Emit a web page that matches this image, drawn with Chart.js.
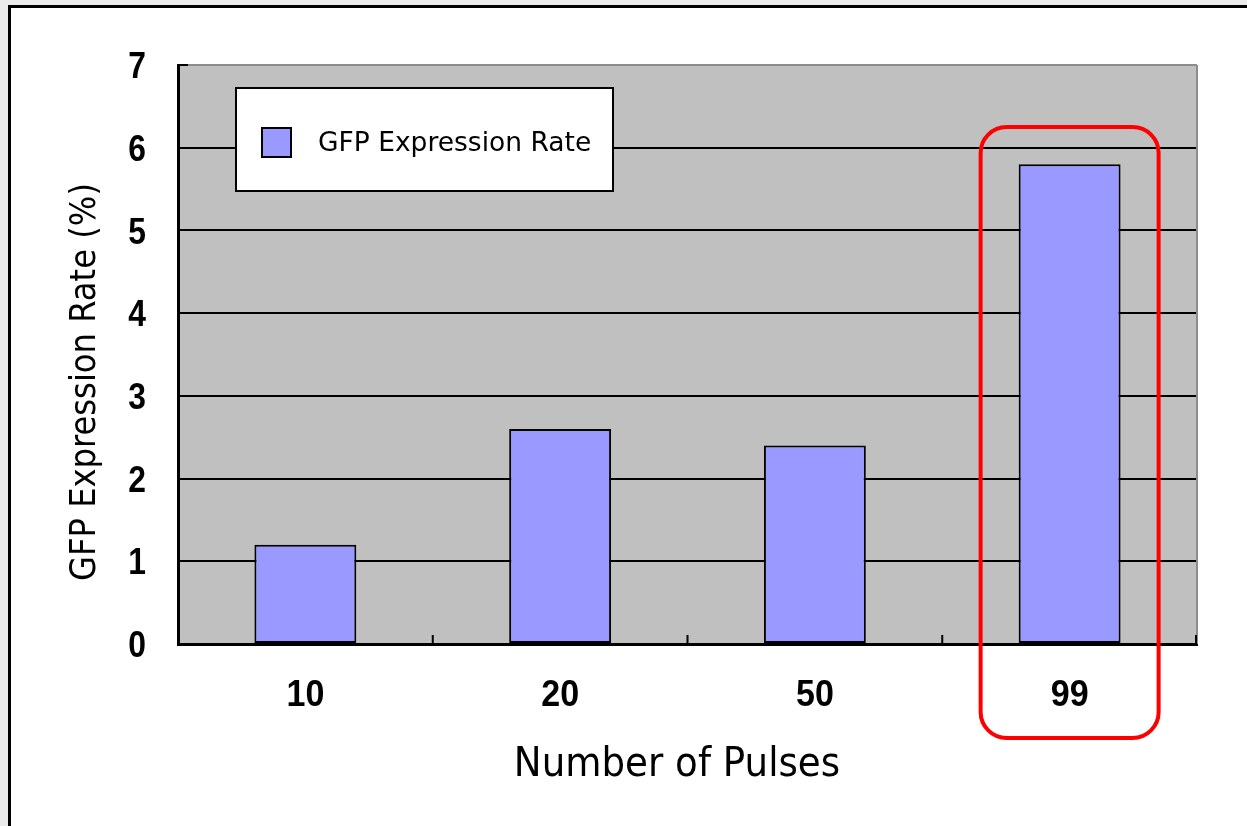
<!DOCTYPE html>
<html>
<head>
<meta charset="utf-8">
<script src="https://cdn.jsdelivr.net/npm/chart.js@4/dist/chart.umd.min.js"></script>
<style>
  html, body { margin: 0; padding: 0; background: #ebebeb; }
  #wrap { position: absolute; left: 0; top: 0; width: 1247px; height: 826px; }
</style>
</head>
<body>
<div id="wrap"><canvas id="myChart" width="1247" height="826"></canvas></div>
<script>
// data
const pulses = ["10", "20", "50", "99"];
const gfpRate = [1.2, 2.6, 2.4, 5.8];
const yTicks = [0, 1, 2, 3, 4, 5, 6, 7];
const seriesName = "GFP Expression Rate";
const xTitle = "Number of Pulses";
const yTitle = "GFP Expression Rate (%)";
const highlighted = "99";

const barFill = "#9999ff";
const tickFont = "bold 37px 'Liberation Sans'";

// text squeezed sideways, the original uses a narrow font
function squeezed(c, text, x, y, font, sx, align) {
  c.save();
  c.font = font;
  c.textAlign = align;
  c.textBaseline = "middle";
  c.translate(x, y);
  c.scale(sx, 1);
  c.fillText(text, 0, 0);
  c.restore();
}

// frame, plot background, inward ticks, labels, legend, titles and the red box
const decor = {
  id: "decor",
  beforeDraw(chart) {
    const c = chart.ctx;
    const a = chart.chartArea;
    c.save();
    c.fillStyle = "#ebebeb";
    c.fillRect(0, 0, chart.width, chart.height);
    c.fillStyle = "#fff";
    c.fillRect(8, 5, chart.width, chart.height);
    c.strokeStyle = "#000";
    c.lineWidth = 3;
    c.beginPath();
    c.moveTo(9.5, chart.height);
    c.lineTo(9.5, 6.5);
    c.lineTo(chart.width, 6.5);
    c.stroke();
    c.fillStyle = "#c0c0c0";
    c.fillRect(a.left, a.top, a.right - a.left, a.bottom - a.top);
    c.restore();
  },
  afterDraw(chart) {
    const c = chart.ctx;
    const a = chart.chartArea;
    const xs = chart.scales.x;
    const ys = chart.scales.y;
    c.save();

    // right border of plot
    c.strokeStyle = "#8c8c8c";
    c.lineWidth = 2;
    c.beginPath();
    c.moveTo(a.right, a.top);
    c.lineTo(a.right, a.bottom);
    c.stroke();

    // short inward ticks between categories
    c.strokeStyle = "#000";
    c.lineWidth = 2;
    for (let i = 0; i < pulses.length; i++) {
      const px = i < pulses.length - 1
        ? (xs.getPixelForValue(i) + xs.getPixelForValue(i + 1)) / 2
        : a.right - 1;
      c.beginPath();
      c.moveTo(px, a.bottom);
      c.lineTo(px, a.bottom - 9);
      c.stroke();
    }
    c.beginPath();
    c.moveTo(a.left, ys.getPixelForValue(7));
    c.lineTo(a.left + 10, ys.getPixelForValue(7));
    c.stroke();

    // tick labels
    c.fillStyle = "#000";
    ys.ticks.forEach((t) => {
      squeezed(c, String(t.value), a.left - 32, ys.getPixelForValue(t.value) + 3, tickFont, 0.86, "right");
    });
    xs.getLabels().forEach((lab, i) => {
      squeezed(c, lab, xs.getPixelForValue(i), a.bottom + 52, tickFont, 0.92, "center");
    });

    // legend box
    const lx = a.left + 58, ly = a.top + 23;
    c.fillStyle = "#fff";
    c.fillRect(lx, ly, 377, 103);
    c.lineWidth = 2;
    c.strokeRect(lx, ly, 377, 103);
    c.fillStyle = barFill;
    c.fillRect(lx + 26, ly + 40, 29, 29);
    c.strokeRect(lx + 26, ly + 40, 29, 29);
    c.fillStyle = "#000";
    squeezed(c, seriesName, lx + 82, ly + 56, "26.5px 'DejaVu Sans'", 1, "left");

    // axis titles
    squeezed(c, xTitle, 677, 766, "40px 'DejaVu Sans'", 0.93, "center");
    c.save();
    c.translate(86, 382);
    c.rotate(-Math.PI / 2);
    squeezed(c, yTitle, 0, 0, "35px 'DejaVu Sans'", 0.92, "center");
    c.restore();

    // red rounded box round the highlighted category
    const cx = xs.getPixelForValue(pulses.indexOf(highlighted));
    const top = ys.getPixelForValue(6.25);
    const bottom = a.bottom + 94;
    c.strokeStyle = "#ff0000";
    c.lineWidth = 4;
    c.beginPath();
    c.roundRect(cx - 89, top, 178, bottom - top, 26);
    c.stroke();

    c.restore();
  }
};

const ctx = document.querySelector("#myChart");

const chart = new Chart(ctx, {
  type: "bar",
  data: {
    labels: pulses,
    datasets: [
      {
        label: seriesName,
        data: gfpRate,
        backgroundColor: barFill,
        borderColor: "#000",
        borderWidth: 2,
        borderSkipped: false,
        barPercentage: 0.4,
        categoryPercentage: 1,
      },
    ],
  },
  options: {
    responsive: false,
    animation: false,
    layout: { padding: { left: 0, top: 65, right: 50, bottom: 0 } },
    plugins: {
      legend: { display: false },
      tooltip: { enabled: false },
    },
    scales: {
      x: {
        grid: { display: false, drawTicks: false },
        border: { color: "#000", width: 3 },
        ticks: { display: false },
        afterFit(scale) { scale.height = 182; },
      },
      y: {
        min: 0,
        max: 7,
        afterBuildTicks(scale) { scale.ticks = yTicks.map((v) => ({ value: v })); },
        grid: {
          drawTicks: false,
          lineWidth: 2,
          color: (c) => (c.tick && c.tick.value === 7 ? "#8c8c8c" : "#000"),
        },
        border: { color: "#000", width: 3 },
        ticks: { display: false },
        afterFit(scale) { scale.width = 178; },
      },
    },
  },
  plugins: [decor],
});
</script>
</body>
</html>
